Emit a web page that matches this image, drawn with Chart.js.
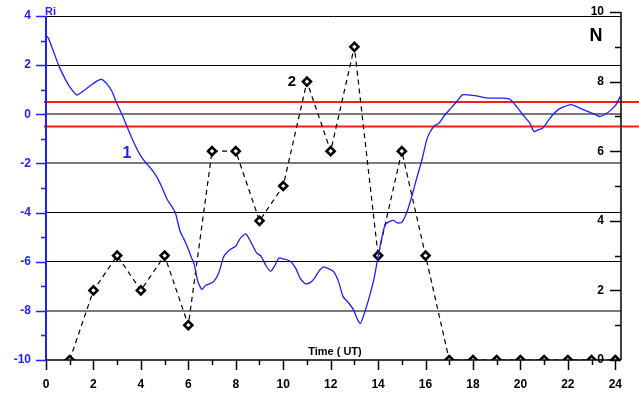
<!DOCTYPE html>
<html>
<head>
<meta charset="utf-8">
<script src="https://cdn.jsdelivr.net/npm/chart.js@4.4.1/dist/chart.umd.min.js"></script>
<style>
  html, body { margin: 0; padding: 0; background: #fff; }
  #wrap { width: 639px; height: 395px; position: relative; }
</style>
</head>
<body>
<div id="wrap"><canvas id="myChart"></canvas></div>
<script>
// curve 1 : Richardson number Ri against time (UT, hours)
const riTime = [0.0, 0.1, 0.3, 0.55, 0.8, 1.0, 1.3, 1.6, 1.95, 2.2, 2.35, 2.6, 2.8, 2.95, 3.2, 3.5, 3.75, 4.0, 4.25, 4.5,
  4.7, 4.9, 5.1, 5.3, 5.45, 5.65, 5.8, 5.95, 6.1, 6.25, 6.4, 6.57, 6.72, 6.9, 7.08, 7.28, 7.5, 7.75, 8.0, 8.2,
  8.42, 8.62, 8.88, 9.07, 9.25, 9.46, 9.63, 9.82, 10.02, 10.3, 10.52, 10.73, 10.95, 11.15, 11.3, 11.5, 11.7, 11.92, 12.12, 12.33,
  12.52, 12.75, 12.96, 13.1, 13.25, 13.38, 13.6, 13.82, 14.0, 14.17, 14.3, 14.5, 14.65, 14.82, 15.0, 15.2, 15.38, 15.6, 15.85, 16.05,
  16.2, 16.4, 16.55, 16.82, 17.1, 17.32, 17.55, 17.8, 18.15, 18.5, 18.92, 19.27, 19.55, 19.83, 20.1, 20.4, 20.57, 20.75, 20.95, 21.15,
  21.37, 21.58, 21.8, 22.15, 22.5, 22.85, 23.12, 23.33, 23.55, 23.82, 24.03, 24.2];
const riValue = [3.2, 3.1, 2.6, 1.95, 1.45, 1.12, 0.78, 0.97, 1.22, 1.38, 1.42, 1.2, 0.9, 0.52, 0.0, -0.7, -1.25, -1.7, -2.02, -2.3,
  -2.6, -3.0, -3.45, -3.75, -4.0, -4.75, -5.05, -5.37, -5.75, -6.12, -6.8, -7.13, -6.97, -6.9, -6.8, -6.46, -5.78, -5.51, -5.37, -5.03,
  -4.87, -5.17, -5.64, -5.78, -6.12, -6.39, -6.19, -5.85, -5.89, -5.98, -6.25, -6.7, -6.9, -6.84, -6.7, -6.39, -6.21, -6.29, -6.39, -6.8,
  -7.41, -7.67, -7.95, -8.28, -8.52, -8.22, -7.54, -6.73, -5.78, -4.97, -4.49, -4.36, -4.32, -4.42, -4.4, -4.02, -3.48, -2.7, -1.85, -1.04,
  -0.7, -0.45, -0.38, -0.02, 0.28, 0.52, 0.79, 0.79, 0.75, 0.68, 0.66, 0.66, 0.62, 0.32, -0.02, -0.36, -0.7, -0.63, -0.56, -0.29,
  -0.02, 0.18, 0.29, 0.39, 0.25, 0.11, 0.01, -0.09, -0.02, 0.18, 0.39, 0.72];

// curve 2 : N, hourly values
const nTime = [1, 2, 3, 4, 5, 6, 7, 8, 9, 10, 11, 12, 13, 14, 15, 16, 17, 18, 19, 20, 21, 22, 23, 24];
const nValue = [0, 2, 3, 2, 3, 1, 6, 6, 4, 5, 8, 6, 9, 3, 6, 3, 0, 0, 0, 0, 0, 0, 0, 0];

// axes
const timeTicks = [0, 1, 2, 3, 4, 5, 6, 7, 8, 9, 10, 11, 12, 13, 14, 15, 16, 17, 18, 19, 20, 21, 22, 23, 24];
const riTicks = [-10, -9, -8, -7, -6, -5, -4, -3, -2, -1, 0, 1, 2, 3, 4];
const nTicks = [0, 1, 2, 3, 4, 5, 6, 7, 8, 9, 10];
const riGrayLines = [0, -2, -8];
const riLimits = [0.5, -0.5];

const BLUE = '#1f1fff';
const FONT = 'Liberation Sans, Arial, Helvetica, sans-serif';

const riPoints = riTime.map((t, i) => ({ x: t, y: riValue[i] }));
const nPoints = nTime.map((t, i) => ({ x: t, y: nValue[i] }));

function setTicks(list) {
    return function (scale) {
        scale.ticks = list.map(v => ({ value: v }));
    };
}

// fixed axis sizes, no extra padding for the edge labels
function fixSize(w, h) {
    return function (scale) {
        if (w !== null) scale.width = w;
        if (h !== null) scale.height = h;
        scale.paddingTop = 0;
        scale.paddingBottom = 0;
        scale.paddingLeft = 0;
        scale.paddingRight = 0;
    };
}

// axis lines, tick marks, red limit lines and the text labels
const decorPlugin = {
    id: 'decor',
    beforeDatasetsDraw(chart) {
        const { ctx, chartArea, scales } = chart;
        ctx.save();
        ctx.strokeStyle = '#ff1a1a';
        ctx.lineWidth = 2;
        riLimits.forEach(v => {
            const py = scales.y.getPixelForValue(v);
            ctx.beginPath();
            ctx.moveTo(chartArea.left - 2, py);
            ctx.lineTo(chart.width, py);
            ctx.stroke();
        });
        ctx.restore();
    },
    afterDraw(chart) {
        const { ctx, chartArea, scales } = chart;
        const xs = scales.x, ys = scales.y, ns = scales.y1;
        const left = chartArea.left, right = chartArea.right, bottom = chartArea.bottom;
        ctx.save();

        // left axis (Ri)
        ctx.strokeStyle = BLUE;
        ctx.lineWidth = 2;
        ctx.beginPath();
        ctx.moveTo(left, ys.getPixelForValue(4));
        ctx.lineTo(left, bottom);
        ctx.stroke();
        ctx.lineWidth = 1.5;
        riTicks.forEach(v => {
            const py = Math.round(ys.getPixelForValue(v)) + 0.5;
            const len = v % 2 === 0 ? 10 : 5;
            ctx.beginPath();
            ctx.moveTo(left - len, py);
            ctx.lineTo(left, py);
            ctx.stroke();
        });

        // right axis (N)
        ctx.strokeStyle = '#000';
        ctx.lineWidth = 1.5;
        ctx.beginPath();
        ctx.moveTo(right, ns.getPixelForValue(10));
        ctx.lineTo(right, bottom);
        ctx.stroke();
        nTicks.forEach(v => {
            const py = Math.round(ns.getPixelForValue(v)) + 0.5;
            const len = v % 2 === 0 ? 11 : 6;
            ctx.beginPath();
            ctx.moveTo(right - len, py);
            ctx.lineTo(right, py);
            ctx.stroke();
        });

        // time axis
        ctx.beginPath();
        ctx.moveTo(left, bottom);
        ctx.lineTo(right, bottom);
        ctx.stroke();
        timeTicks.forEach(v => {
            const px = Math.round(xs.getPixelForValue(v)) + 0.5;
            const len = v % 2 === 0 ? 10 : 5;
            ctx.beginPath();
            ctx.moveTo(px, bottom);
            ctx.lineTo(px, bottom + len);
            ctx.stroke();
        });

        // texts
        ctx.textAlign = 'left';
        ctx.textBaseline = 'alphabetic';
        ctx.fillStyle = BLUE;
        ctx.font = 'bold 11px ' + FONT;
        ctx.fillText('Ri', left - 1, ys.getPixelForValue(4) - 1);

        ctx.textAlign = 'center';
        ctx.textBaseline = 'middle';
        ctx.font = 'bold 16px ' + FONT;
        ctx.fillText('1', xs.getPixelForValue(3.41), ys.getPixelForValue(-1.61));

        ctx.fillStyle = '#000';
        ctx.font = 'bold 15px ' + FONT;
        ctx.fillText('2', xs.getPixelForValue(10.37), ys.getPixelForValue(1.33));

        ctx.font = 'bold 18px ' + FONT;
        ctx.fillText('N', xs.getPixelForValue(23.19), ns.getPixelForValue(9.32));

        ctx.font = 'bold 11px ' + FONT;
        ctx.fillText('Time ( UT)', xs.getPixelForValue(12.18), bottom - 8);

        ctx.restore();
    }
};

new Chart(document.getElementById('myChart'), {
    type: 'line',
    data: {
        datasets: [
            {
                label: 'Ri',
                data: riPoints,
                yAxisID: 'y',
                borderColor: BLUE,
                borderWidth: 1.3,
                pointRadius: 0,
                tension: 0.2,
                fill: false
            },
            {
                label: 'N',
                data: nPoints,
                yAxisID: 'y1',
                borderColor: '#000',
                borderWidth: 1.2,
                borderDash: [5, 4],
                pointStyle: 'rectRot',
                pointRadius: 4,
                pointBorderWidth: 2.6,
                pointBackgroundColor: '#fff',
                pointBorderColor: '#000',
                tension: 0,
                fill: false
            }
        ]
    },
    options: {
        responsive: true,
        maintainAspectRatio: false,
        animation: false,
        devicePixelRatio: 1,
        layout: { autoPadding: false, padding: { top: 12, left: 0, right: 0, bottom: 0 } },
        plugins: { legend: { display: false }, title: { display: false }, tooltip: { enabled: false } },
        scales: {
            x: {
                type: 'linear',
                min: 0,
                max: 24.24,
                afterBuildTicks: setTicks(timeTicks),
                afterFit: fixSize(null, 35),
                grid: { display: false, drawTicks: false },
                border: { display: false },
                ticks: {
                    autoSkip: false,
                    maxRotation: 0,
                    padding: 17,
                    color: '#000',
                    font: { family: FONT, size: 12, weight: 'bold' },
                    callback: v => (v % 2 === 0 ? String(v) : '')
                }
            },
            y: {
                position: 'left',
                min: -10,
                max: 4.163,
                afterBuildTicks: setTicks(riTicks),
                afterFit: fixSize(46, null),
                border: { display: false },
                grid: {
                    drawTicks: false,
                    color: c => {
                        const v = c.tick.value;
                        if (v % 2 !== 0 || v === -10) return 'rgba(0,0,0,0)';
                        return riGrayLines.includes(v) ? '#7a7a7a' : '#000';
                    },
                    lineWidth: c => (riGrayLines.includes(c.tick.value) ? 2 : 1)
                },
                ticks: {
                    autoSkip: false,
                    padding: 15,
                    color: BLUE,
                    font: { family: FONT, size: 12, weight: 'bold' },
                    callback: v => (v % 2 === 0 ? String(v) : '')
                }
            },
            y1: {
                position: 'right',
                min: 0,
                max: 10,
                afterBuildTicks: setTicks(nTicks),
                afterFit: fixSize(18, null),
                border: { display: false },
                grid: { display: false, drawTicks: false },
                ticks: {
                    autoSkip: false,
                    mirror: true,
                    padding: -17,
                    color: '#000',
                    font: { family: FONT, size: 12, weight: 'bold' },
                    callback: v => (v % 2 === 0 ? String(v) : '')
                }
            }
        }
    },
    plugins: [decorPlugin]
});
</script>
</body>
</html>
